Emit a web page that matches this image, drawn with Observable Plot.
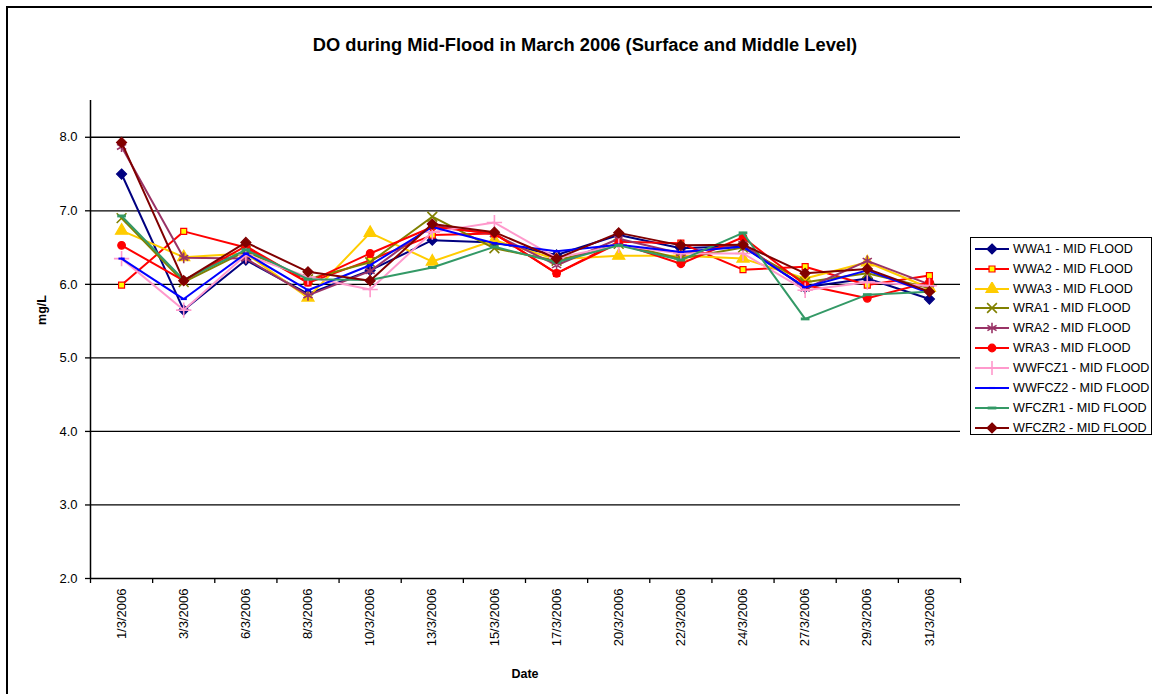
<!DOCTYPE html>
<html>
<head>
<meta charset="utf-8">
<script src="https://cdn.jsdelivr.net/npm/d3@7"></script>
<script src="https://cdn.jsdelivr.net/npm/@observablehq/plot@0.6"></script>
<style>
  html, body { margin: 0; padding: 0; background: #fff; }
  body { width: 1152px; height: 694px; position: relative; overflow: hidden; font-family: "Liberation Sans", Arial, sans-serif; }
  #frame { position: absolute; left: 6px; top: 6px; width: 1200px; height: 760px; border: 2px solid #000; box-sizing: border-box; }
  #chart { position: absolute; left: 0; top: 0; }
  #title { position: absolute; left: 0; width: 1170px; top: 34px; text-align: center; font-weight: bold; font-size: 18.3px; }
  #ylab { position: absolute; left: 42px; top: 310px; transform: translate(-50%, -50%) rotate(-90deg); font-weight: bold; font-size: 12.5px; }
  #xlab { position: absolute; left: 525px; top: 674px; transform: translate(-50%, -50%); font-weight: bold; font-size: 12.5px; }
  #legend { position: absolute; left: 970px; top: 237px; width: 182px; height: 198px; border: 1px solid #000; box-sizing: border-box; background: #fff; padding-top: 1px; }
  .row { height: 19.85px; display: flex; align-items: center; font-size: 12.6px; white-space: nowrap; }
  .row svg { margin-left: 3px; margin-right: 3px; flex: none; }
</style>
</head>
<body>
<div id="frame"></div>
<div id="chart"></div>
<div id="title">DO during Mid-Flood in March 2006 (Surface and Middle Level)</div>
<div id="ylab">mg/L</div>
<div id="xlab">Date</div>
<div id="legend"></div>
<script>
const dates = ["1/3/2006","3/3/2006","6/3/2006","8/3/2006","10/3/2006","13/3/2006","15/3/2006","17/3/2006","20/3/2006","22/3/2006","24/3/2006","27/3/2006","29/3/2006","31/3/2006"];
const seriesNames = ["WWA1 - MID FLOOD","WWA2 - MID FLOOD","WWA3 - MID FLOOD","WRA1 - MID FLOOD","WRA2 - MID FLOOD","WRA3 - MID FLOOD","WWFCZ1 - MID FLOOD","WWFCZ2 - MID FLOOD","WFCZR1 - MID FLOOD","WFCZR2 - MID FLOOD"];
const WWA1   = [7.50, 5.65, 6.33, 5.87, 6.19, 6.60, 6.57, 6.40, 6.67, 6.49, 6.52, 5.96, 6.08, 5.80];
const WWA2   = [5.99, 6.72, 6.50, 6.02, 6.33, 6.67, 6.69, 6.15, 6.58, 6.56, 6.20, 6.24, 5.99, 6.12];
const WWA3   = [6.73, 6.37, 6.42, 5.82, 6.70, 6.31, 6.60, 6.34, 6.39, 6.39, 6.35, 6.08, 6.30, 5.95];
const WRA1   = [6.90, 6.03, 6.45, 6.07, 6.30, 6.92, 6.49, 6.32, 6.55, 6.35, 6.50, 6.03, 6.15, 5.95];
const WRA2   = [7.87, 6.36, 6.35, 5.85, 6.18, 6.80, 6.68, 6.26, 6.62, 6.42, 6.55, 5.94, 6.32, 6.00];
const WRA3   = [6.53, 6.05, 6.52, 6.03, 6.42, 6.78, 6.69, 6.15, 6.56, 6.28, 6.64, 5.99, 5.81, 6.03];
const WWFCZ1 = [6.35, 5.65, 6.40, 6.10, 5.93, 6.71, 6.84, 6.36, 6.53, 6.42, 6.42, 5.92, 6.03, 5.98];
const WWFCZ2 = [6.35, 5.80, 6.42, 5.92, 6.26, 6.78, 6.56, 6.45, 6.54, 6.44, 6.51, 5.96, 6.19, 5.88];
const WFCZR1 = [6.93, 6.06, 6.47, 6.07, 6.06, 6.23, 6.51, 6.30, 6.53, 6.33, 6.70, 5.53, 5.86, 5.90];
const WFCZR2 = [7.93, 6.05, 6.57, 6.17, 6.05, 6.82, 6.71, 6.35, 6.70, 6.53, 6.54, 6.15, 6.21, 5.90];
const seriesValues = [WWA1, WWA2, WWA3, WRA1, WRA2, WRA3, WWFCZ1, WWFCZ2, WFCZR1, WFCZR2];
const yTicks = [2, 3, 4, 5, 6, 7, 8];

const dash = { draw(ctx, size) { const w = Math.sqrt(size) * 1.4, h = Math.max(2, w / 3); ctx.rect(-w / 2, -h / 2, w, h); } };
const styles = [
  { color: "#000080", symbol: "diamond2", r: 4.5, fill: "#000080", stroke: "#000080" },
  { color: "#FF0000", symbol: "square2", r: 3.8, fill: "#FFFF00", stroke: "#FF0000" },
  { color: "#FFCC00", symbol: "triangle", r: 4.5, fill: "#FFCC00", stroke: "#FFCC00" },
  { color: "#808000", symbol: "times", r: 4.5, fill: "none", stroke: "#808000" },
  { color: "#993366", symbol: "asterisk", r: 5, fill: "none", stroke: "#993366" },
  { color: "#FF0000", symbol: "circle", r: 3.8, fill: "#FF0000", stroke: "#FF0000" },
  { color: "#FF99CC", symbol: "plus", r: 5, fill: "none", stroke: "#FF99CC" },
  { color: "#0000FF", symbol: dash, r: 2.5, fill: "#0000FF", stroke: "none" },
  { color: "#339966", symbol: dash, r: 3.5, fill: "#339966", stroke: "none" },
  { color: "#800000", symbol: "diamond2", r: 4.5, fill: "#800000", stroke: "#800000" }
];

const data = seriesNames.flatMap((s, k) => seriesValues[k].map((v, i) => ({ series: s, i, date: dates[i], v })));
const idx = dates.map((d, i) => i);
const bounds = d3.range(-0.5, dates.length, 1);

const seriesMarks = seriesNames.flatMap((s, k) => {
  const rows = data.filter(d => d.series === s);
  const st = styles[k];
  return [
    Plot.line(rows, { x: "i", y: "v", stroke: st.color, strokeWidth: 2 }),
    Plot.dot(rows, { x: "i", y: "v", symbol: st.symbol, r: st.r, fill: st.fill, stroke: st.stroke, strokeWidth: st.fill === "none" ? 1.6 : 1.2 })
  ];
});

const chart = Plot.plot({
  width: 1152, height: 694,
  marginLeft: 90, marginRight: 192, marginTop: 100, marginBottom: 116,
  style: { fontFamily: "Liberation Sans, Arial, sans-serif", fontSize: "13px", color: "#000", background: "transparent" },
  x: { type: "linear", domain: [-0.5, dates.length - 0.5] },
  y: { domain: [2, 8.5] },
  marks: [
    Plot.ruleY(yTicks.filter(t => t > 2), { stroke: "#000", strokeWidth: 1.3 }),
    Plot.axisY({ ticks: yTicks, tickFormat: d => d.toFixed(1), tickSize: 5, tickPadding: 8, label: null, stroke: "#000", strokeWidth: 1.3, fontSize: 13 }),
    Plot.axisX({ ticks: bounds, tickFormat: () => "", tickSize: 5, label: null, stroke: "#000", strokeWidth: 1.3 }),
    Plot.axisX({ ticks: idx, tickFormat: i => dates[i], tickRotate: -90, tickSize: 0, tickPadding: 10, label: null, fontSize: 13 }),
    Plot.ruleY([2], { stroke: "#000", strokeWidth: 1.5 }),
    Plot.ruleX([-0.5], { stroke: "#000", strokeWidth: 1.5 }),
    ...seriesMarks
  ]
});
document.getElementById("chart").appendChild(chart);

// Legend
const legend = d3.select("#legend");
seriesNames.forEach((s, k) => {
  const st = styles[k];
  const row = legend.append("div").attr("class", "row");
  const svg = row.append("svg").attr("width", 36).attr("height", 14);
  svg.append("line").attr("x1", 1).attr("x2", 35).attr("y1", 7).attr("y2", 7).attr("stroke", st.color).attr("stroke-width", 2);
  const type = typeof st.symbol === "string" ? {
    diamond2: d3.symbolDiamond2, square2: d3.symbolSquare2, triangle: d3.symbolTriangle, times: d3.symbolTimes,
    asterisk: d3.symbolAsterisk, circle: d3.symbolCircle, plus: d3.symbolPlus
  }[st.symbol] : st.symbol;
  svg.append("path").attr("transform", "translate(18,7)")
    .attr("d", d3.symbol(type, Math.PI * st.r * st.r)())
    .attr("fill", st.fill).attr("stroke", st.stroke).attr("stroke-width", st.fill === "none" ? 1.6 : 1.2);
  row.append("span").text(s);
});
</script>
</body>
</html>
